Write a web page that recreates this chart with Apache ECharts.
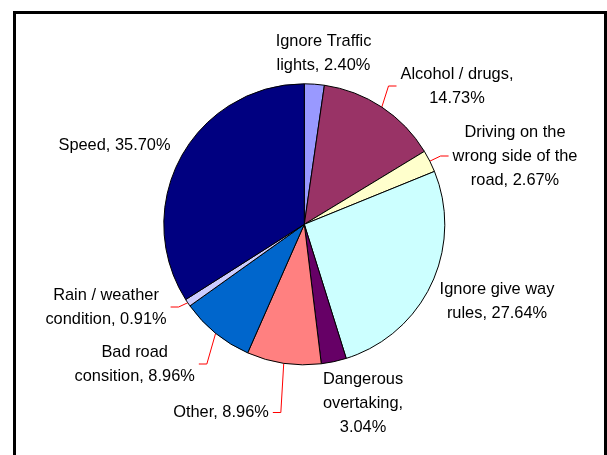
<!DOCTYPE html>
<html><head><meta charset="utf-8">
<script src="https://cdn.jsdelivr.net/npm/echarts@6/dist/echarts.min.js"></script>
<style>html,body{margin:0;padding:0;background:#fff}#c{width:607px;height:455px}</style>
</head><body><div id="c"></div>
<script>
// Data (clockwise from 12 o'clock)
const categories = ['Ignore Traffic\nlights', 'Alcohol / drugs', 'Driving on the\nwrong side of the\nroad', 'Ignore give way\nrules', 'Dangerous\novertaking', 'Other', 'Bad road\nconsition', 'Rain / weather\ncondition', 'Speed'];
const values = [2.40, 14.73, 2.67, 27.64, 3.04, 8.96, 8.96, 0.91, 35.70];
const valueOnNewLine = [false, true, false, false, true, false, false, false, false];

// Styling / layout
const colors = ['#9999FF', '#993366', '#FFFFCC', '#CCFFFF', '#660066', '#FF8080', '#0066CC', '#CCCCFF', '#000080'];
const hasLeader = [false, true, true, false, false, true, true, true, false];
const labelCenters = [[323.5, 53], [457, 86], [515, 156], [497, 301], [363, 403], [221, 412.5], [134.7, 364], [106, 307], [114.5, 145]];

const chart = echarts.init(document.getElementById('c'), null, { renderer: 'canvas' });
chart.setOption({
  animation: false,
  backgroundColor: '#fff',
  graphic: [{
    type: 'rect', silent: true, z: 100,
    shape: { x: 14.5, y: 12.5, width: 591, height: 470 },
    style: { fill: null, stroke: '#000', lineWidth: 3 }
  }],
  series: [{
    type: 'pie',
    center: [304.3, 224.3],
    radius: 140.5,
    startAngle: 90,
    clockwise: true,
    avoidLabelOverlap: false,
    emphasis: { disabled: true },
    itemStyle: { borderColor: '#000', borderWidth: 1 },
    label: {
      show: true,
      position: 'outside',
      color: '#000',
      fontFamily: '"Liberation Sans", Arial, sans-serif',
      fontSize: 16.4,
      lineHeight: 24,
      padding: [0, 4],
      align: 'center',
      formatter: p => p.name + ',' + (valueOnNewLine[p.dataIndex] ? '\n' : ' ') + p.value.toFixed(2) + '%'
    },
    labelLine: {
      show: true, length: 5, length2: 8, smooth: false,
      lineStyle: { color: '#FF0000', width: 1 }
    },
    labelLayout: params => ({
      x: labelCenters[params.dataIndex][0],
      y: labelCenters[params.dataIndex][1],
      align: 'center',
      verticalAlign: 'middle'
    }),
    data: categories.map((c, i) => ({
      name: c,
      value: values[i],
      itemStyle: { color: colors[i] },
      labelLine: { show: hasLeader[i] }
    }))
  }]
});
</script>
</body></html>
